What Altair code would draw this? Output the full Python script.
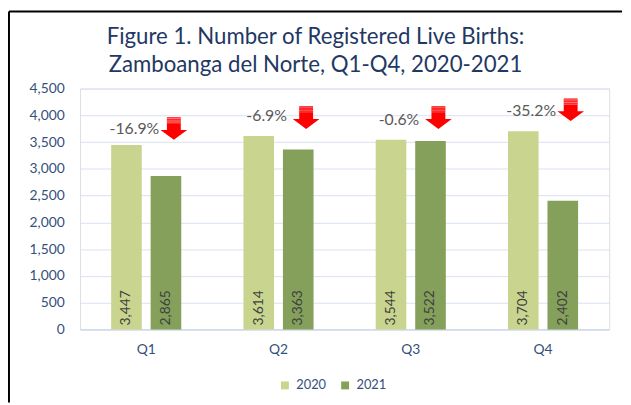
import altair as alt
import pandas as pd

# ---- data ----
quarters = ["Q1", "Q2", "Q3", "Q4"]
years = ["2020", "2021"]
births_2020 = [3447, 3614, 3544, 3704]
births_2021 = [2865, 3363, 3522, 2402]
pct_change = ["-16.9%", "-6.9%", "-0.6%", "-35.2%"]
pct_label_y = [3744, 3983, 3910, 4076]   # vertical position of % labels (data units)
arrow_y = [3753, 3956, 3956, 4103]       # vertical position of arrows (data units)
y_ticks = list(range(0, 4501, 500))
bar_colors = ["#C9D58F", "#84A05B"]

title_lines = ["Figure 1. Number of Registered Live Births:",
               "Zamboanga del Norte, Q1-Q4, 2020-2021"]

bars_df = pd.DataFrame({
    "quarter": quarters * 2,
    "year": [years[0]] * 4 + [years[1]] * 4,
    "value": births_2020 + births_2021,
})
bars_df["label"] = bars_df["value"].map(lambda v: f"{v:,}")

ann_df = pd.DataFrame({
    "quarter": quarters,
    "pct": pct_change,
    "ty": pct_label_y,
    "ay": arrow_y,
})

FONT = "Lato"
AXIS_COLOR = "#34507A"

x_enc = alt.X("quarter:N", sort=quarters,
              scale=alt.Scale(domain=quarters, paddingInner=0.47, paddingOuter=0.235),
              axis=alt.Axis(title=None, labelAngle=0, ticks=False, domainColor="#C5D3EA",
                            domainWidth=1, labelFontSize=14, labelColor=AXIS_COLOR,
                            labelFont=FONT, labelPadding=13, grid=False))
xoff_enc = alt.XOffset("year:N", scale=alt.Scale(domain=years, paddingInner=0.225))
y_scale = alt.Scale(domain=[0, 4500], nice=False)

bars = alt.Chart(bars_df).mark_bar().encode(
    x=x_enc,
    xOffset=xoff_enc,
    y=alt.Y("value:Q", scale=y_scale,
            axis=alt.Axis(title=None, values=y_ticks, format=",d", domain=False, ticks=False,
                          gridColor="#D9E1F2", gridWidth=1, labelFontSize=14,
                          labelColor=AXIS_COLOR, labelFont=FONT, labelPadding=16)),
    color=alt.Color("year:N", scale=alt.Scale(domain=years, range=bar_colors),
                    legend=alt.Legend(title=None, orient="none", direction="horizontal",
                                      legendX=201, legendY=294, symbolType="square",
                                      symbolSize=64, symbolStrokeWidth=0,
                                      labelFontSize=13, labelColor=AXIS_COLOR,
                                      labelFont=FONT, labelOffset=5, columnPadding=12)),
)

bar_labels = alt.Chart(bars_df).mark_text(
    angle=270, align="left", baseline="middle", dx=4,
    fontSize=14, font=FONT, color="#404040"
).encode(
    x=alt.X("quarter:N", sort=quarters),
    xOffset=alt.XOffset("year:N"),
    y=alt.Y(datum=0, axis=None),
    text="label:N",
)

pct_text = alt.Chart(ann_df).mark_text(
    dx=-12, fontSize=16, font=FONT, color="#595959", baseline="middle", align="center"
).encode(
    x=alt.X("quarter:N", sort=quarters),
    y=alt.Y("ty:Q", axis=None),
    text="pct:N",
)

arrow_path = "M -0.52 -0.85 L 0.52 -0.85 L 0.52 0.11 L 1 0.11 L 0 0.85 L -1 0.11 L -0.52 0.11 Z"
stripe_path = ("M -0.52 -0.77 L 0.52 -0.77 L 0.52 -0.70 L -0.52 -0.70 Z "
               "M -0.52 -0.60 L 0.52 -0.60 L 0.52 -0.53 L -0.52 -0.53 Z "
               "M -0.52 -0.45 L 0.52 -0.45 L 0.52 -0.40 L -0.52 -0.40 Z")

arrows = alt.Chart(ann_df).mark_point(
    shape=arrow_path, filled=True, fill="#FF0000", opacity=1, size=729,
    strokeWidth=0, xOffset=28
).encode(
    x=alt.X("quarter:N", sort=quarters),
    y=alt.Y("ay:Q", axis=None),
)
stripes = alt.Chart(ann_df).mark_point(
    shape=stripe_path, filled=True, fill="#FF9A9A", opacity=1, size=729,
    strokeWidth=0, xOffset=28
).encode(
    x=alt.X("quarter:N", sort=quarters),
    y=alt.Y("ay:Q", axis=None),
)

frame_src = alt.Data(values=[{"k": 1}])
frame_left = alt.Chart(frame_src).mark_rule(color="#000000", strokeWidth=2).encode(
    x=alt.value(-72), y=alt.value(-78), y2=alt.value(318))
frame_top = alt.Chart(frame_src).mark_rule(color="#000000", strokeWidth=2).encode(
    x=alt.value(-72), x2=alt.value(549), y=alt.value(-78))

chart = alt.layer(
    bars, bar_labels, pct_text, arrows, stripes, frame_left, frame_top
).resolve_axis(y="independent").properties(
    width=536, height=244,
    padding=0,
    title=alt.TitleParams(text=title_lines, anchor="middle", frame="bounds",
                          offset=-67, fontSize=22.5, font=FONT, fontWeight="normal",
                          color="#1F3864", lineHeight=29),
).configure_view(stroke=None).configure(background="white")

chart.save("out.html", embed_options={"renderer": "svg", "actions": False})
